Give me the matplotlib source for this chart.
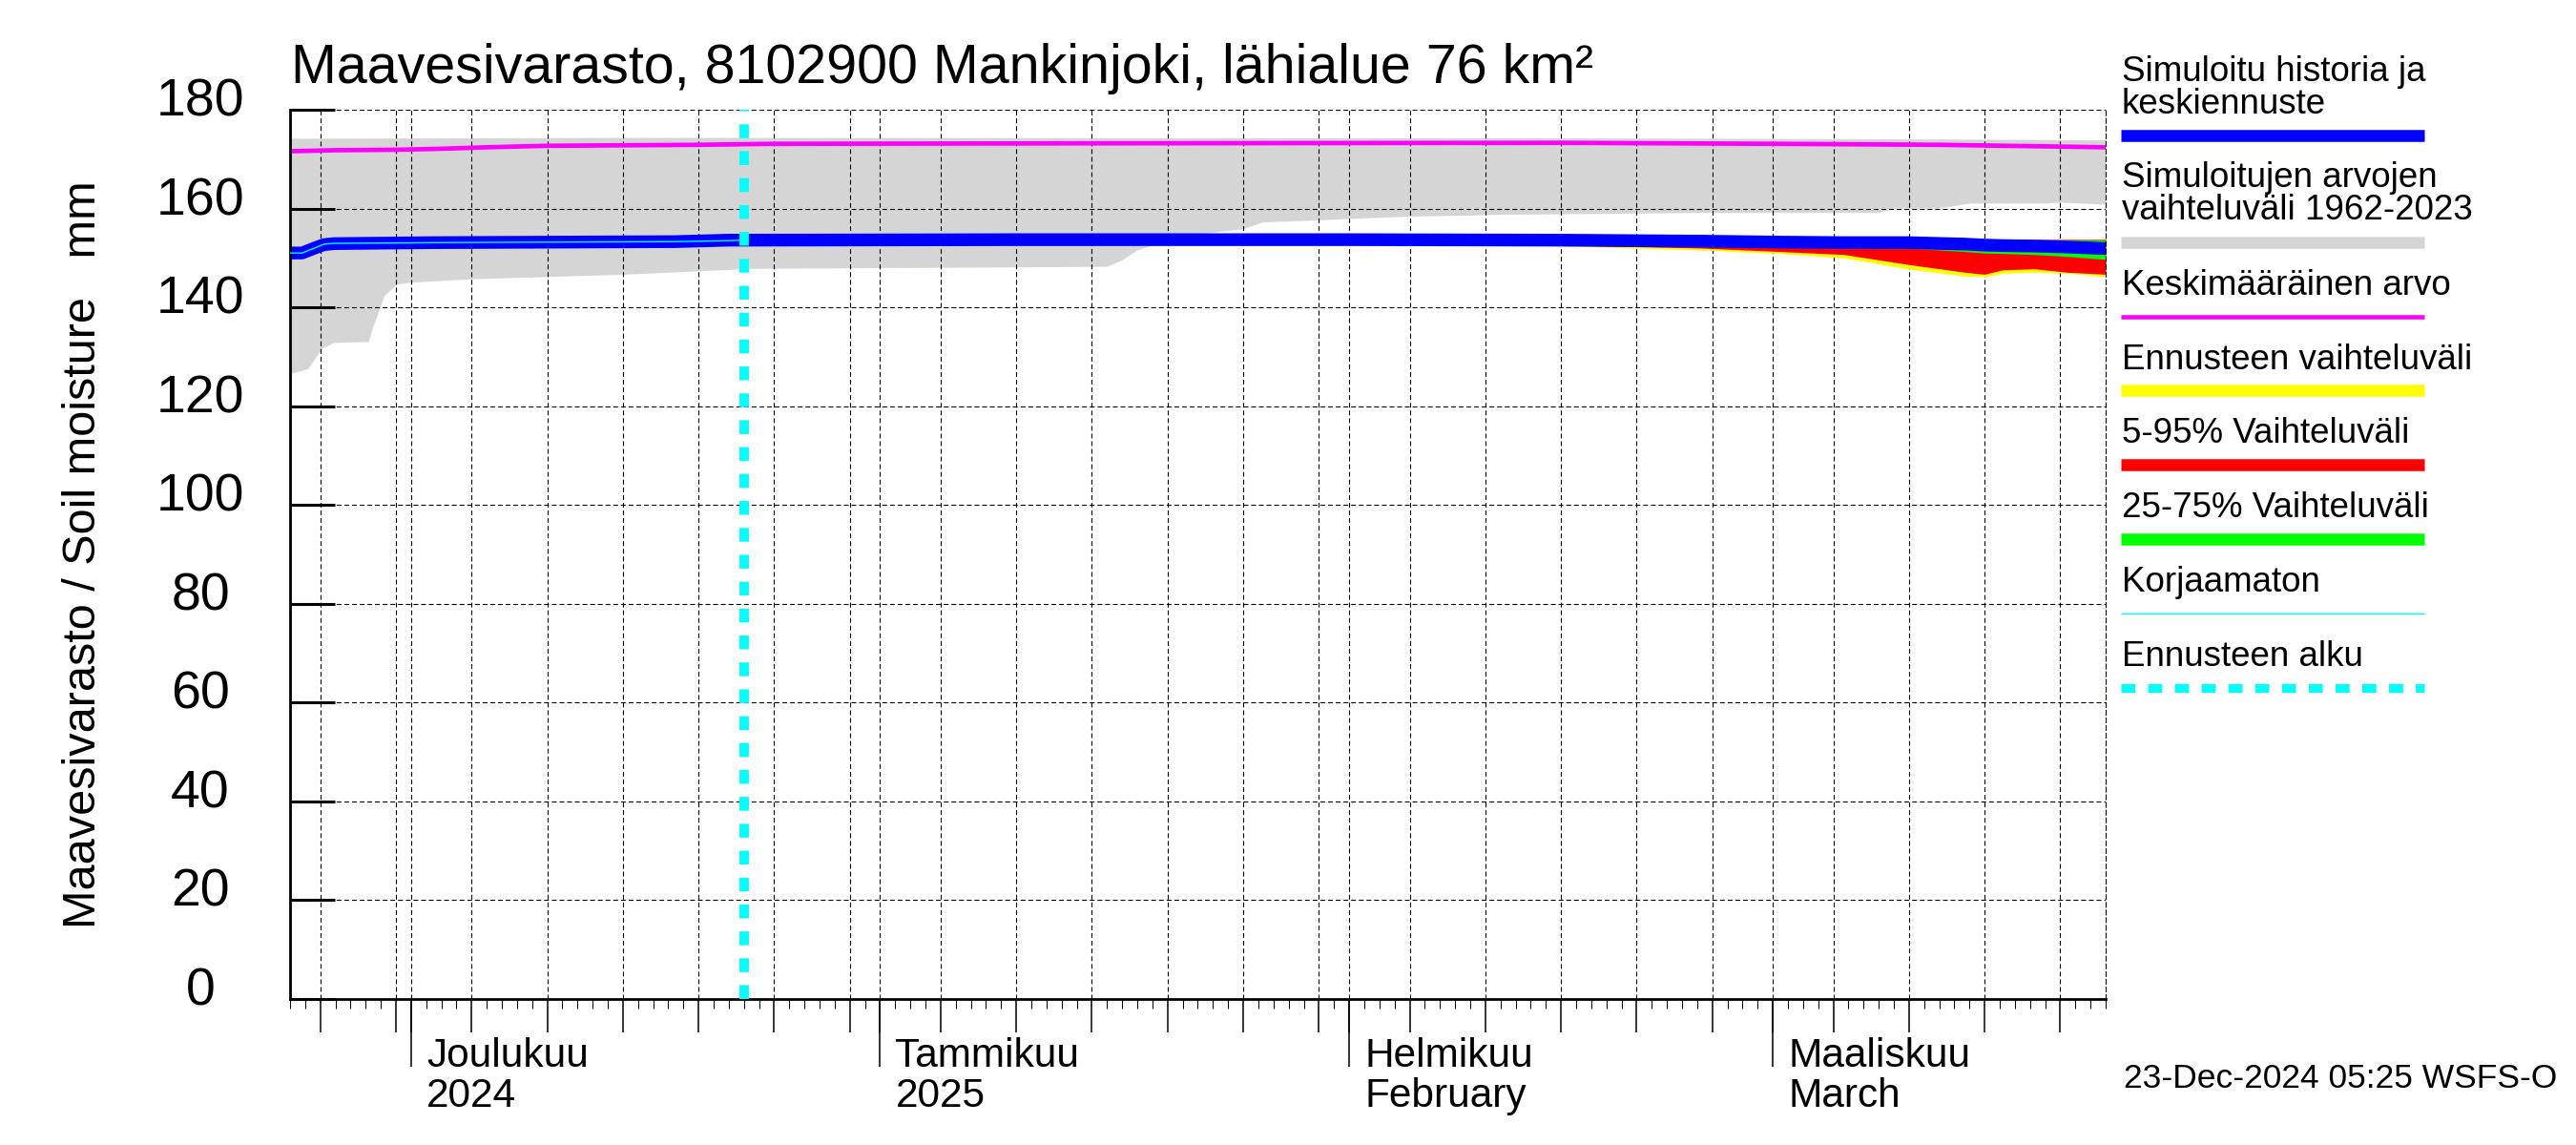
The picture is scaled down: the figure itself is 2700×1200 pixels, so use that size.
import matplotlib
matplotlib.use("Agg")
import matplotlib.pyplot as plt
import matplotlib.dates as mdates
from matplotlib.lines import Line2D
from matplotlib.transforms import ScaledTranslation
import numpy as np
import pandas as pd

# simulated history 1962-2023, lower and upper edge of the grey band
range_low_dates = ["2024-11-23", "2024-11-24 05:00", "2024-11-24 15:00", "2024-11-25 04:00",
                   "2024-11-25 22:00", "2024-11-28 05:00", "2024-11-28 10:00", "2024-11-29 06:00",
                   "2024-11-30 02:00", "2024-12-01 01:00", "2024-12-05 02:00", "2024-12-15",
                   "2024-12-23 14:00", "2025-01-16", "2025-01-17", "2025-01-18", "2025-01-20",
                   "2025-01-22", "2025-01-23 12:00", "2025-01-25", "2025-01-26 07:00", "2025-01-30",
                   "2025-02-01", "2025-02-05 10:00", "2025-02-09 10:00", "2025-02-10", "2025-02-24",
                   "2025-03-08", "2025-03-09", "2025-03-12", "2025-03-14", "2025-03-19",
                   "2025-03-20", "2025-03-23"]
range_low = [126.5, 127.5, 129.4, 131.7, 132.8, 133.0, 135.2, 142.3, 144.6, 145.0, 145.7, 146.6,
             147.8, 148.2, 149.5, 151.5, 153.5, 154.8, 155.3, 155.8, 157.2, 157.6, 157.9, 158.4,
             158.6, 158.7, 159.1, 159.1, 160.0, 160.0, 161.0, 161.0, 161.2, 160.8]
range_high_dates = ["2024-11-23", "2024-12-15", "2025-02-15", "2025-03-10", "2025-03-23"]
range_high = [174.1, 174.3, 174.2, 174.0, 173.8]

# long-term mean
mean_dates = ["2024-11-23", "2024-11-26", "2024-11-30", "2024-12-03", "2024-12-06", "2024-12-10",
              "2024-12-20", "2024-12-25", "2025-01-15", "2025-02-15", "2025-03-01", "2025-03-12",
              "2025-03-23"]
mean_vals = [171.6, 171.8, 171.9, 172.1, 172.4, 172.7, 172.9, 173.1, 173.2, 173.3, 173.1, 172.9, 172.4]

# simulated history up to forecast start
hist_dates = ["2024-11-23", "2024-11-23 19:00", "2024-11-24 15:00", "2024-11-25 06:00",
              "2024-11-25 22:00", "2024-12-02 14:00", "2024-12-18 10:00", "2024-12-22", "2024-12-23"]
hist_vals = [151.0, 151.0, 152.0, 152.7, 152.9, 153.1, 153.3, 153.6, 153.6]
uncorr_vals = [151.0, 151.0, 152.0, 152.8, 152.95, 153.1, 153.3, 153.5, 153.6]

# forecast
fc_dates = ["2024-12-23", "2025-01-10", "2025-02-01", "2025-02-15", "2025-02-24 07:00",
            "2025-03-01 12:00", "2025-03-05 17:00", "2025-03-09 22:00", "2025-03-13 17:00",
            "2025-03-15", "2025-03-16 05:00", "2025-03-18 07:00", "2025-03-20 12:00", "2025-03-23"]
fc_median = [153.6, 153.7, 153.7, 153.6, 153.4, 153.2, 153.1, 153.1, 152.8, 152.6, 152.5, 152.4, 152.2, 151.9]
fc_min = [153.6, 153.2, 152.8, 152.4, 151.6, 150.9, 150.0, 147.8, 146.3, 146.2, 146.9, 147.1, 146.9, 146.2]
fc_max = [153.6, 153.9, 154.0, 154.0, 153.9, 153.9, 153.9, 153.9, 153.8, 153.8, 153.8, 153.75, 153.75, 153.75]
fc_p05 = [153.6, 153.3, 153.0, 152.6, 152.0, 151.3, 150.7, 148.7, 147.1, 146.7, 147.6, 147.8, 147.1, 146.7]
fc_p95 = [153.6, 153.8, 153.9, 153.9, 153.9, 153.9, 153.9, 153.9, 153.8, 153.8, 153.8, 153.75, 153.75, 153.75]
fc_p25 = [153.6, 153.6, 153.5, 153.3, 153.0, 152.7, 152.4, 152.0, 151.3, 151.0, 150.9, 150.7, 150.3, 149.7]
fc_p75 = [153.6, 153.7, 153.7, 153.7, 153.6, 153.6, 153.5, 153.5, 153.5, 153.5, 153.5, 153.6, 153.6, 153.6]

forecast_start = "2024-12-23"
x_start, x_end = "2024-11-23", "2025-03-23"

month_dates = ["2024-12-01", "2025-01-01", "2025-02-01", "2025-03-01"]
month_labels = ["Joulukuu\n2024", "Tammikuu\n2025", "Helmikuu\nFebruary", "Maaliskuu\nMarch"]
yticks = list(range(0, 181, 20))

title = "Maavesivarasto, 8102900 Mankinjoki, lähialue 76 km²"
ylabel = "Maavesivarasto / Soil moisture   mm"
stamp = "23-Dec-2024 05:25 WSFS-O"

legend_items = [
    ("Simuloitu historia ja\nkeskiennuste", "#0000ff", 9.0, "-"),
    ("Simuloitujen arvojen\nvaihteluväli 1962-2023", "#d5d5d5", 9.0, "-"),
    ("Keskimääräinen arvo", "#ff00ff", 3.3, "-"),
    ("Ennusteen vaihteluväli", "#ffff00", 9.0, "-"),
    ("5-95% Vaihteluväli", "#ff0000", 9.0, "-"),
    ("25-75% Vaihteluväli", "#00ff00", 9.0, "-"),
    ("Korjaamaton", "#00ffff", 1.0, "-"),
    ("Ennusteen alku", "#00ffff", 6.6, (0, (10.6, 9.6))),
]
# baselines of first text line / bar centres, pixels from top
legend_text_y = [85, 196, 309, 387, 464, 542, 620, 698]
legend_bar_y = [142, 254, 332, 409, 487, 565, 643, 721]

W, H = 2700, 1200
plt.rcParams["font.family"] = ["Liberation Sans", "DejaVu Sans"]
plt.rcParams["lines.scale_dashes"] = False
dash = (0, (3.6, 2.2))


def d(lst):
    return pd.to_datetime(lst, format="ISO8601").to_numpy()


fig = plt.figure(figsize=(27, 12), dpi=100)
ax = fig.add_axes([304 / W, 1 - 1047 / H, (2207 - 304) / W, (1047 - 115) / H])

# grey band
gx = np.concatenate([d(range_low_dates), d(range_high_dates)[::-1]])
gy = np.concatenate([range_low, range_high[::-1]])
ax.fill(gx, gy, color="#d5d5d5", lw=0, zorder=0.4)

ax.plot(d(mean_dates), mean_vals, color="#ff00ff", lw=3.4, zorder=2.3, solid_capstyle="butt")

fx = d(fc_dates)
ax.fill_between(fx, fc_min, fc_max, color="#ffff00", lw=0, zorder=2.0)
ax.fill_between(fx, fc_p05, fc_p95, color="#ff0000", lw=0, zorder=2.1)
ax.fill_between(fx, fc_p25, fc_p75, color="#00ff00", lw=0, zorder=2.2)

ax.plot(d(hist_dates), hist_vals, color="#0000ff", lw=9.6, zorder=2.5, solid_capstyle="butt")
ax.plot(fx, fc_median, color="#0000ff", lw=9.6, zorder=2.5, solid_capstyle="butt")
ax.plot(d(hist_dates), uncorr_vals, color="#00ffff", lw=1.0, zorder=2.6)

ax.axvline(pd.Timestamp(forecast_start), color="#00ffff", lw=7.1,
           linestyle=(0, (10.4, 9.9)), zorder=2.7)

ax.set_xlim(pd.Timestamp(x_start), pd.Timestamp(x_end))
ax.set_ylim(0, 180)

# axes look
ax.spines["top"].set_visible(False)
ax.spines["right"].set_linestyle(dash)
ax.spines["right"].set_linewidth(0.8)
ax.spines["left"].set_linewidth(2.0)
ax.spines["bottom"].set_linewidth(2.0)

ax.xaxis.set_major_locator(mdates.DayLocator(bymonthday=[1, 5, 10, 15, 20, 25, 30]))
ax.xaxis.set_minor_locator(mdates.DayLocator())
ax.xaxis.set_major_formatter(plt.NullFormatter())
ax.tick_params(axis="x", which="major", direction="out", length=25.2, width=1.1)
ax.tick_params(axis="x", which="minor", direction="out", length=7.2, width=0.75)

ax.set_yticks(yticks)
ax.tick_params(axis="y", which="major", direction="in", length=33.8, width=2.2,
               labelsize=40, pad=67.7)
for lab in ax.get_yticklabels():
    lab.set_ha("center")
    lab.set_va("center")
    lab.set_transform(lab.get_transform() + ScaledTranslation(0, 0.075, fig.dpi_scale_trans))

ax.set_axisbelow(True)
ax.grid(True, which="major", color="black", linestyle=dash, linewidth=0.8)

# month ticks and labels on a twin axis
ax2 = ax.twiny()
ax2.set_xlim(ax.get_xlim())
for s in ax2.spines.values():
    s.set_visible(False)
ax2.xaxis.set_ticks_position("bottom")
ax2.set_xticks(mdates.date2num(pd.to_datetime(month_dates)), labels=month_labels)
ax2.tick_params(axis="x", direction="out", length=51, width=1.1, labelsize=30.5, pad=-22.0)
for lab in ax2.get_xticklabels():
    lab.set_ha("left")
    lab.set_linespacing(1.06)
    lab.set_transform(lab.get_transform() + ScaledTranslation(0.16, 0, fig.dpi_scale_trans))

ax.set_ylabel(ylabel, fontsize=35)
ax.yaxis.label.set_va("center")
ax.yaxis.set_label_coords((88 - 304) / 1903, 0.50)

fig.text(305 / W, 1 - 87 / H, title, fontsize=41.3, va="baseline", ha="left")
fig.text(2680 / W, 1 - 1140 / H, stamp, fontsize=25.5, va="baseline", ha="right")

# legend
for (txt, col, lw, ls), ty, by in zip(legend_items, legend_text_y, legend_bar_y):
    for k, line in enumerate(txt.split("\n")):
        fig.text(2224 / W, 1 - (ty + 34 * k) / H, line, fontsize=26.5, va="baseline", ha="left")
    fig.add_artist(Line2D([2223 / W, 2541 / W], [1 - by / H, 1 - by / H], transform=fig.transFigure,
                          color=col, lw=lw, linestyle=ls, solid_capstyle="butt", dash_capstyle="butt"))

fig.savefig("out.png", dpi=100)
